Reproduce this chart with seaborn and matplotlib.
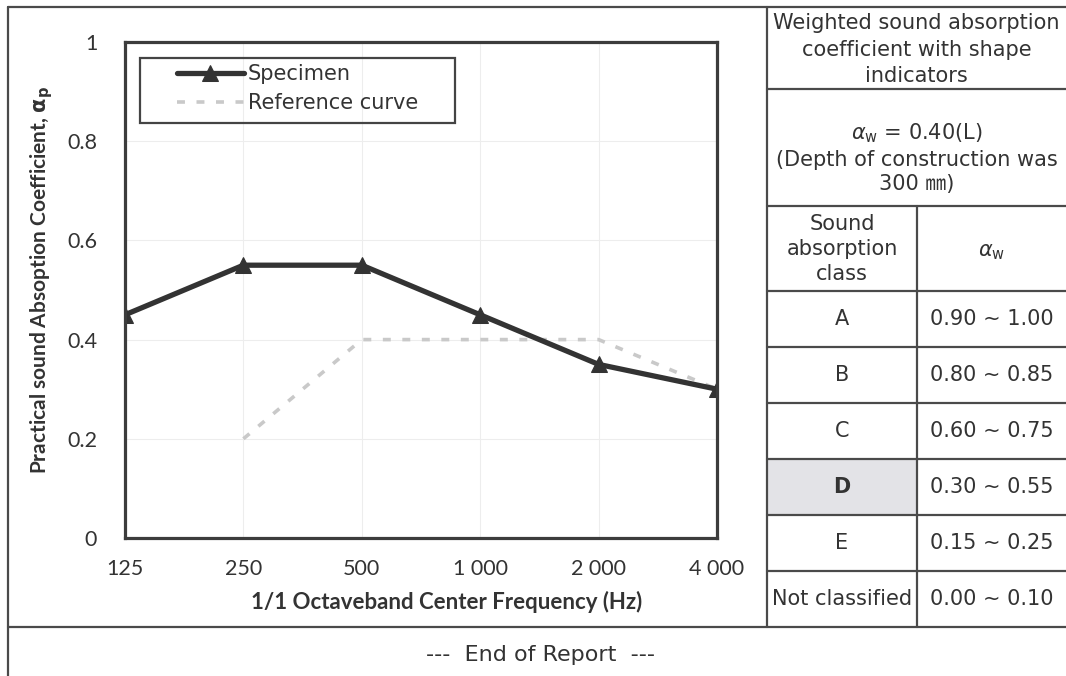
import matplotlib.pyplot as plt
import matplotlib.lines as mlines
import matplotlib.patches as mpatches
from matplotlib.ticker import NullLocator
import seaborn as sns

# chart data
freqs = [125, 250, 500, 1000, 2000, 4000]
freq_labels = ['125', '250', '500', '1 000', '2 000', '4 000']
specimen = [0.45, 0.55, 0.55, 0.45, 0.35, 0.30]
ref_freqs = [250, 500, 1000, 2000, 4000]
reference = [0.20, 0.40, 0.40, 0.40, 0.30]
y_ticks = [0, 0.2, 0.4, 0.6, 0.8, 1]
y_labels = ['0', '0.2', '0.4', '0.6', '0.8', '1']

# side table
classes = ['A', 'B', 'C', 'D', 'E', 'Not classified']
class_ranges = ['0.90 ~ 1.00', '0.80 ~ 0.85', '0.60 ~ 0.75',
                '0.30 ~ 0.55', '0.15 ~ 0.25', '0.00 ~ 0.10']
rated_class = 'D'
alpha_w = '0.40(L)'
depth = '300'

sns.set_style('white')
plt.rcParams['font.family'] = ['Lato', 'DejaVu Sans']

W, H = 1066, 676
fig = plt.figure(figsize=(W / 100, H / 100), dpi=100)
ink = '#333333'
table_font = ['DejaVu Sans', 'Noto Sans CJK KR']


def fx(x):
    return x / W


def fy(y):
    return 1 - y / H


# ---- chart ----
x0, x1, y0, y1 = 125, 717, 42, 538
ax = fig.add_axes([fx(x0), fy(y1), (x1 - x0) / W, (y1 - y0) / H])

sns.lineplot(x=ref_freqs, y=reference, ax=ax, color='#c9c9c9', lw=2.6,
             linestyle=(0, (2.2, 3.2)), label='Reference curve')
sns.lineplot(x=freqs, y=specimen, ax=ax, color=ink, lw=3.8, marker='^',
             markersize=11, markeredgecolor=ink, label='Specimen')

ax.set_xscale('log', base=2)
ax.set_xlim(125, 4000)
ax.set_ylim(0, 1)
ax.set_xticks(freqs)
ax.set_xticklabels(freq_labels)
ax.xaxis.set_minor_locator(NullLocator())
ax.set_yticks(y_ticks)
ax.set_yticklabels(y_labels)
ax.tick_params(length=0, labelsize=15.5, labelcolor=ink)
ax.tick_params(axis='y', pad=20)
ax.tick_params(axis='x', pad=15)
ax.grid(True, color='#ededed', lw=0.8)
ax.set_axisbelow(True)
for s in ax.spines.values():
    s.set_color('#3c3c3c')
    s.set_linewidth(2.3)

ax.set_xlabel('1/1 Octaveband Center Frequency (Hz)', fontsize=16,
              fontweight='bold', color=ink)
ax.xaxis.set_label_coords((447 - x0) / (x1 - x0), (y1 - 591) / (y1 - y0))
ax.set_ylabel(r'Practical sound Absoption Coefficient, $\mathbf{\alpha_p}$',
              fontsize=15, fontweight='bold', color=ink)
ax.yaxis.set_label_coords((55 - x0) / (x1 - x0), 0.52)

handles, labels = ax.get_legend_handles_labels()
ax.legend(handles[::-1], labels[::-1], frameon=False, loc='upper left',
          bbox_to_anchor=((177 - x0) / (x1 - x0), (y1 - 64) / (y1 - y0)),
          borderaxespad=0, borderpad=0, handlelength=3.2, handletextpad=0.2,
          labelspacing=0.45, prop={'family': 'DejaVu Sans', 'size': 15},
          labelcolor=ink)
ax.add_patch(mpatches.Rectangle(
    ((140 - x0) / (x1 - x0), (y1 - 123) / (y1 - y0)),
    (455 - 140) / (x1 - x0), (123 - 58) / (y1 - y0),
    transform=ax.transAxes, fill=False, ec='#444444', lw=1.6, zorder=5))

# ---- page frame and table ----
line_c = '#4a4a4a'


def hline(y, xa, xb):
    fig.add_artist(mlines.Line2D([fx(xa), fx(xb)], [fy(y), fy(y)],
                                 color=line_c, lw=1.6))


def vline(x, ya, yb):
    fig.add_artist(mlines.Line2D([fx(x), fx(x)], [fy(ya), fy(yb)],
                                 color=line_c, lw=1.6))


def tx(x, y, s, **kw):
    kw.setdefault('fontsize', 15)
    fig.text(fx(x), fy(y), s, ha='center', va='center',
             color=ink, family=table_font, **kw)


col_l, col_m, col_r = 767, 917, 1066
row_top = 291
row_h = (627 - 291) / len(classes)

# shaded cell of the rated class
ri = classes.index(rated_class)
fig.add_artist(mpatches.Rectangle(
    (fx(col_l), fy(row_top + (ri + 1) * row_h)), (col_m - col_l) / W,
    row_h / H, color='#e3e3e7', lw=0))

hline(7, 8, W)
vline(8, 7, H)
vline(col_l, 7, 627)
hline(89, col_l, W)
hline(206, col_l, W)
vline(col_m, 206, 627)
for i in range(len(classes)):
    hline(row_top + i * row_h, col_l, W)
hline(627, 8, W)

cx = (col_l + col_r) / 2
tx(cx, 23, 'Weighted sound absorption')
tx(cx, 50, 'coefficient with shape')
tx(cx, 76, 'indicators')
tx(cx, 133, r'$\alpha_{\rm w}$ = ' + alpha_w)
tx(cx, 160, '(Depth of construction was')
tx(cx, 184, depth + ' ㎜)')

lc, rc = (col_l + col_m) / 2, (col_m + col_r) / 2
tx(lc, 224, 'Sound')
tx(lc, 249, 'absorption')
tx(lc, 274, 'class')
tx(rc, 252, r'$\alpha_{\rm w}$')
for i, (c, r) in enumerate(zip(classes, class_ranges)):
    yc = row_top + (i + 0.5) * row_h
    tx(lc, yc, c, fontweight='bold' if c == rated_class else 'normal')
    tx(rc, yc, r)

tx(541, 655, '---  End of Report  ---', fontsize=16)

fig.savefig('out.png', dpi=100)
